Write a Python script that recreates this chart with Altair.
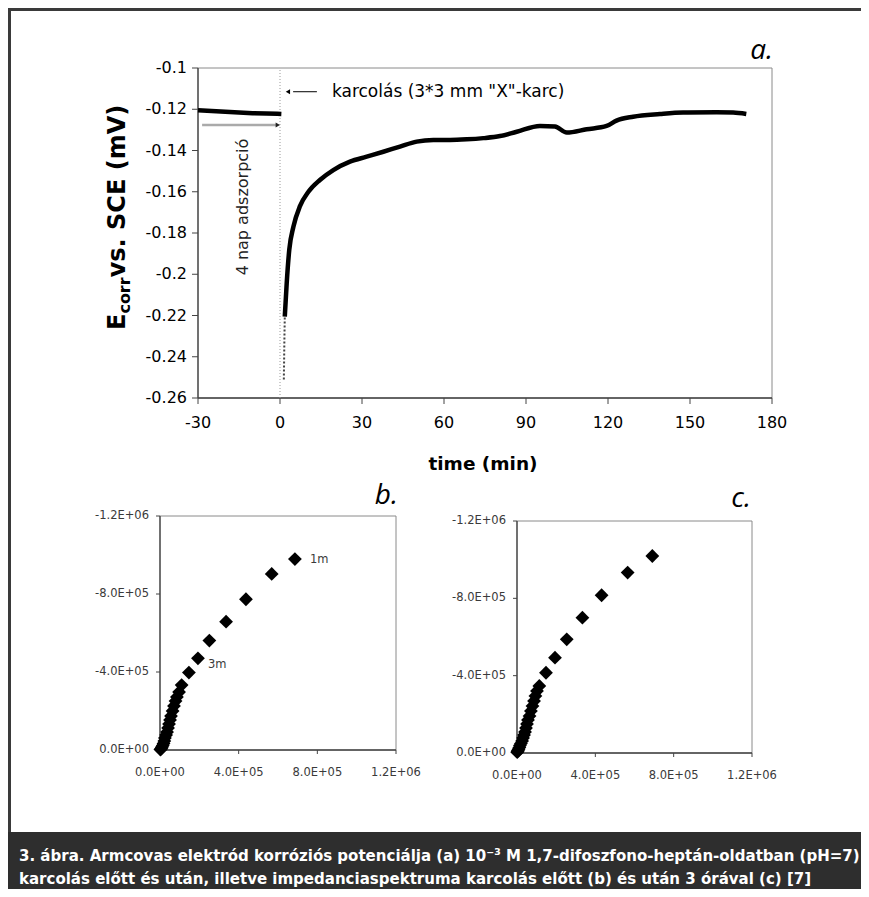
import altair as alt
import pandas as pd

# ---------------- data ----------------
# (a) corrosion potential vs time
pre_time = [-30, -25, -20, -15, -10, -5, -1, 0.5]
pre_ecorr = [-0.1205, -0.1208, -0.1212, -0.1216, -0.1219, -0.1221, -0.1222, -0.1223]
drop_time = [1.4, 1.5, 1.6, 1.75]
drop_ecorr = [-0.251, -0.242, -0.232, -0.2206]
post_time = [1.75, 2.45, 3.4, 4.9, 7.3, 10.4, 14.6, 19.5, 25.6, 31.7, 37.8, 43.9, 50.0,
             56.1, 62.2, 68.3, 74.4, 80.5, 86.6, 95.1, 100.6, 104.9, 112.2, 119.5, 123.1,
             129.2, 139.0, 147.5, 159.7, 165.8, 170.6]
post_ecorr = [-0.2206, -0.2044, -0.1880, -0.1770, -0.1670, -0.1600, -0.1543, -0.1495,
              -0.1454, -0.1430, -0.1406, -0.1381, -0.1357, -0.1349, -0.1349, -0.1346,
              -0.1340, -0.1330, -0.1309, -0.1281, -0.1284, -0.1313, -0.1297, -0.1281,
              -0.1255, -0.1236, -0.1223, -0.1216, -0.1215, -0.1216, -0.1223]
a_time_domain = [-30, 180]
a_e_domain = [-0.26, -0.1]
a_time_ticks = [-30, 0, 30, 60, 90, 120, 150, 180]
a_time_labels = ["-30", "0", "30", "60", "90", "120", "150", "180"]
a_e_ticks = [-0.26, -0.24, -0.22, -0.2, -0.18, -0.16, -0.14, -0.12, -0.1]
a_e_labels = ["-0.26", "-0.24", "-0.22", "-0.2", "-0.18", "-0.16", "-0.14", "-0.12", "-0.1"]
scratch_time = [0]
note1_time, note1_e = [2.9, 4.8, 13.5, 19.0], -0.1115
note2_time, note2_e = [-28.5, -1.5, -0.8], -0.1276
note2_text_time, note2_text_e = -13.5, -0.1674

# (b) impedance spectrum before scratching
b_re = [686000, 568000, 437000, 336000, 251000, 193000, 147000, 110000, 97000, 86000,
        79000, 71000, 64000, 56000, 51000, 46000, 41000, 36000, 31000, 25000, 22000,
        18000, 14000, 10000, 7000, 4000, 2000]
b_im = [-979000, -903000, -773000, -658000, -561000, -470000, -397000, -333000, -297000,
        -272000, -251000, -226000, -200000, -174000, -154000, -133000, -113000, -92000,
        -77000, -62000, -46000, -33000, -23000, -15000, -9000, -4000, -2000]
b_notes = ["1m", "3m"]
b_note_re = [686000, 193000]
b_note_im = [-979000, -470000]

# (c) impedance spectrum 3 hours after scratching
c_re = [691000, 565000, 432000, 334000, 254000, 194000, 148000, 114000, 102000, 94000,
        87000, 79000, 71000, 64000, 56000, 51000, 46000, 41000, 36000, 31000, 26000,
        20000, 15000, 12000, 8000, 5000, 3000, 1000]
c_im = [-1019000, -933000, -816000, -700000, -588000, -493000, -415000, -347000, -321000,
        -295000, -269000, -243000, -217000, -191000, -171000, -150000, -129000, -109000,
        -93000, -78000, -62000, -49000, -39000, -28000, -20000, -13000, -8000, -4000]
z_domain = [0, 1200000]
zim_domain = [0, -1200000]
z_ticks = [0, 400000, 800000, 1200000]
z_labels = ["0.0E+00", "4.0E+05", "8.0E+05", "1.2E+06"]
zim_ticks = [0, -400000, -800000, -1200000]
zim_labels = ["0.0E+00", "-4.0E+05", "-8.0E+05", "-1.2E+06"]

caption1 = "3. ábra. Armcovas elektród korróziós potenciálja (a) 10⁻³ M 1,7-difoszfono-heptán-oldatban (pH=7)"
caption2 = "karcolás előtt és után, illetve impedanciaspektruma karcolás előtt (b) és után 3 órával (c) [7]"

# ---------------- layout ----------------
W, H = 853, 881
FONT = "DejaVu Sans"
CAPFONT = "'DejaVu Sans Condensed', 'Liberation Sans Narrow', 'Roboto Condensed', sans-serif"
AXIS_COLOR = "#444"

one = pd.DataFrame({"k": [0]})


def vrect(x, x2, y, y2, color):
    return alt.Chart(one).mark_rect(color=color).encode(
        x=alt.value(x), x2=alt.value(x2), y=alt.value(y), y2=alt.value(y2))


def vtext(text, x, y, **kw):
    return alt.Chart(one).mark_text(text=text, **kw).encode(x=alt.value(x), y=alt.value(y))


def frame_and_axes(sx, sy, xdom, ydom, x0, y0, xt, xl, yt, yl, tick, xlab_y, ylab_x,
                   fsize, lcolor):
    """Plot border, axis lines, ticks and tick labels drawn through the panel's scales."""
    layers = []
    layers.append(alt.Chart(pd.DataFrame({"a0": [xdom[0]], "a1": [xdom[1]],
                                          "b0": [ydom[0]], "b1": [ydom[1]]})).mark_rect(
        fillOpacity=0, stroke="#8a8a8a", strokeWidth=1).encode(
        x=alt.X("a0:Q", scale=sx, axis=None), x2="a1",
        y=alt.Y("b0:Q", scale=sy, axis=None), y2="b1"))
    layers.append(alt.Chart(pd.DataFrame({"a0": [xdom[0]], "a1": [xdom[1]], "b0": [ydom[0]]})).mark_rule(
        color=AXIS_COLOR, strokeWidth=1.3).encode(
        x=alt.X("a0:Q", scale=sx, axis=None), x2="a1", y=alt.Y("b0:Q", scale=sy, axis=None)))
    layers.append(alt.Chart(pd.DataFrame({"a0": [xdom[0]], "b0": [ydom[0]], "b1": [ydom[1]]})).mark_rule(
        color=AXIS_COLOR, strokeWidth=1.3).encode(
        x=alt.X("a0:Q", scale=sx, axis=None), y=alt.Y("b0:Q", scale=sy, axis=None), y2="b1"))
    xdf = pd.DataFrame({"v": xt, "lab": xl})
    ydf = pd.DataFrame({"v": yt, "lab": yl})
    layers.append(alt.Chart(xdf).mark_rule(color=AXIS_COLOR, strokeWidth=1).encode(
        x=alt.X("v:Q", scale=sx, axis=None), y=alt.value(y0), y2=alt.value(y0 + tick)))
    layers.append(alt.Chart(ydf).mark_rule(color=AXIS_COLOR, strokeWidth=1).encode(
        y=alt.Y("v:Q", scale=sy, axis=None), x=alt.value(x0 - tick), x2=alt.value(x0)))
    layers.append(alt.Chart(xdf).mark_text(align="center", baseline="middle", font=FONT,
                                           fontSize=fsize, color=lcolor).encode(
        x=alt.X("v:Q", scale=sx, axis=None), y=alt.value(xlab_y), text="lab:N"))
    layers.append(alt.Chart(ydf).mark_text(align="right", baseline="middle", font=FONT,
                                           fontSize=fsize, color=lcolor).encode(
        y=alt.Y("v:Q", scale=sy, axis=None), x=alt.value(ylab_x), text="lab:N"))
    return layers


# ---------- panel a ----------
AX0, AX1, AY0, AY1 = 190, 764, 390, 60
sx_a = alt.Scale(domain=a_time_domain, range=[AX0, AX1], nice=False, zero=False)
sy_a = alt.Scale(domain=a_e_domain, range=[AY0, AY1], nice=False, zero=False)


def enc_a(ch, tcol="t", ecol="e"):
    return ch.encode(x=alt.X(f"{tcol}:Q", scale=sx_a, axis=None),
                     y=alt.Y(f"{ecol}:Q", scale=sy_a, axis=None))


a_layers = frame_and_axes(sx_a, sy_a, a_time_domain, a_e_domain, AX0, AY0,
                          a_time_ticks, a_time_labels, a_e_ticks, a_e_labels,
                          tick=6, xlab_y=AY0 + 25, ylab_x=AX0 - 11, fsize=16, lcolor="black")

a_layers.append(alt.Chart(pd.DataFrame({"t": scratch_time, "e0": [a_e_domain[0]],
                                        "e1": [a_e_domain[1]]})).mark_rule(
    color="#9a9a9a", strokeDash=[1, 2], strokeWidth=1).encode(
    x=alt.X("t:Q", scale=sx_a, axis=None), y=alt.Y("e0:Q", scale=sy_a, axis=None), y2="e1"))
a_layers.append(enc_a(alt.Chart(pd.DataFrame({"t": pre_time, "e": pre_ecorr})).mark_line(
    color="black", strokeWidth=4.5)))
a_layers.append(enc_a(alt.Chart(pd.DataFrame({"t": drop_time, "e": drop_ecorr})).mark_line(
    color="#444", strokeWidth=2, strokeDash=[2, 2])))
a_layers.append(enc_a(alt.Chart(pd.DataFrame({"t": post_time, "e": post_ecorr})).mark_line(
    color="black", strokeWidth=4.5, interpolate="monotone")))

a_layers.append(alt.Chart(pd.DataFrame({"t0": [note1_time[1]], "t1": [note1_time[2]],
                                        "e": [note1_e]})).mark_rule(
    color="black", strokeWidth=1).encode(
    x=alt.X("t0:Q", scale=sx_a, axis=None), x2="t1", y=alt.Y("e:Q", scale=sy_a, axis=None)))
a_layers.append(enc_a(alt.Chart(pd.DataFrame({"t": [note1_time[0]], "e": [note1_e]})).mark_point(
    shape="triangle-left", filled=True, color="black", size=25, opacity=1)))
a_layers.append(enc_a(alt.Chart(pd.DataFrame({"t": [note1_time[3]], "e": [note1_e]})).mark_text(
    text='karcolás (3*3 mm "X"-karc)', align="left", baseline="middle", font=FONT,
    fontSize=17, color="black")))

a_layers.append(alt.Chart(pd.DataFrame({"t0": [note2_time[0]], "t1": [note2_time[1]],
                                        "e": [note2_e]})).mark_rule(
    color="#aaaaaa", strokeWidth=2.5).encode(
    x=alt.X("t0:Q", scale=sx_a, axis=None), x2="t1", y=alt.Y("e:Q", scale=sy_a, axis=None)))
a_layers.append(enc_a(alt.Chart(pd.DataFrame({"t": [note2_time[2]], "e": [note2_e]})).mark_point(
    shape="triangle-right", filled=True, color="#222", size=25, opacity=1)))
a_layers.append(enc_a(alt.Chart(pd.DataFrame({"t": [note2_text_time], "e": [note2_text_e]})).mark_text(
    text="4 nap adszorpció", align="center", baseline="middle", angle=270, font=FONT,
    fontSize=16, color="#222")))

panel_a = alt.layer(*a_layers)


# ---------- panels b, c ----------
def nyquist(re, im, x0, x1, y0, y1, notes=None):
    sx = alt.Scale(domain=z_domain, range=[x0, x1], nice=False, zero=False)
    sy = alt.Scale(domain=zim_domain, range=[y0, y1], nice=False, zero=False)
    layers = frame_and_axes(sx, sy, z_domain, zim_domain, x0, y0, z_ticks, z_labels,
                            zim_ticks, zim_labels, tick=4, xlab_y=y0 + 23, ylab_x=x0 - 11,
                            fsize=11.5, lcolor="#3a3a3a")
    layers.append(alt.Chart(pd.DataFrame({"re": re, "im": im})).mark_point(
        shape="diamond", filled=True, color="black", size=190, opacity=1).encode(
        x=alt.X("re:Q", scale=sx, axis=None), y=alt.Y("im:Q", scale=sy, axis=None)))
    if notes:
        for txt, r, i, dx, dy in notes:
            layers.append(alt.Chart(pd.DataFrame({"re": [r], "im": [i]})).mark_text(
                text=txt, align="left", baseline="middle", dx=dx, dy=dy, font=FONT,
                fontSize=11.5, color="#3a3a3a").encode(
                x=alt.X("re:Q", scale=sx, axis=None), y=alt.Y("im:Q", scale=sy, axis=None)))
    return alt.layer(*layers)


panel_b = nyquist(b_re, b_im, 152, 388, 742, 508,
                  notes=[(b_notes[0], b_note_re[0], b_note_im[0], 15, 1),
                         (b_notes[1], b_note_re[1], b_note_im[1], 10, 7)])
panel_c = nyquist(c_re, c_im, 509, 744, 745, 513)

# ---------- frame, labels, caption ----------
frame_top = vrect(0, W, 0, 3, "#3a3a3a")
frame_left = vrect(0, 3, 0, H, "#3a3a3a")
band = vrect(0, W, 824, H, "#2e2e2e")
cap1 = vtext(caption1, 11, 853, align="left", baseline="alphabetic", font=CAPFONT,
             fontSize=16.7, fontWeight="bold", color="white")
cap2 = vtext(caption2, 11, 876, align="left", baseline="alphabetic", font=CAPFONT,
             fontSize=16.7, fontWeight="bold", color="white")

lab_a = vtext("a.", 765, 51, align="right", baseline="alphabetic", font="Open Sans",
              fontStyle="italic", fontSize=28, color="black")
lab_b = vtext("b.", 390, 496, align="right", baseline="alphabetic", font="Open Sans",
              fontStyle="italic", fontSize=28, color="black")
lab_c = vtext("c.", 743, 499, align="right", baseline="alphabetic", font="Open Sans",
              fontStyle="italic", fontSize=28, color="black")

xtitle = vtext("time (min)", 475, 456, align="center", baseline="middle", font=FONT,
               fontSize=18.5, fontWeight="bold", color="black")
YT_X, YT_Y = 117, 322
E_W, CORR_W = 0.683 * 24, 2.266 * 16
yt1 = vtext("E", YT_X, YT_Y, angle=270, align="left", baseline="alphabetic", font=FONT,
            fontSize=24, fontWeight="bold", color="black")
yt2 = vtext("corr", YT_X, YT_Y, angle=270, align="left", baseline="alphabetic", font=FONT,
            fontSize=16, fontWeight="bold", color="black", dx=E_W, dy=5)
yt3 = vtext(" vs. SCE (mV)", YT_X, YT_Y, angle=270, align="left", baseline="alphabetic",
            font=FONT, fontSize=24, fontWeight="bold", color="black", dx=E_W + CORR_W)

chart = alt.layer(
    frame_top, frame_left, band, cap1, cap2, lab_a, lab_b, lab_c, xtitle, yt1, yt2, yt3,
    panel_a, panel_b, panel_c
).resolve_scale(x="independent", y="independent").properties(
    width=W, height=H, padding=0, autosize=alt.AutoSizeParams(type="none"),
    background="white"
).configure_view(strokeWidth=0)

chart.save("out.html", embed_options={"renderer": "svg", "actions": False})
